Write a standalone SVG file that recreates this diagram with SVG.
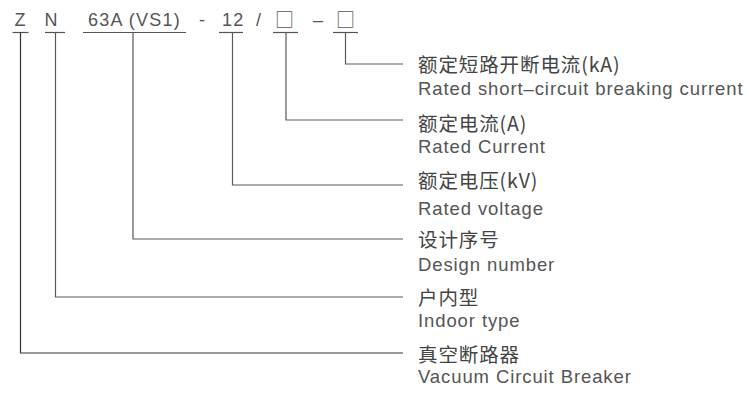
<svg xmlns="http://www.w3.org/2000/svg" width="749" height="397" viewBox="0 0 749 397">
<style>
.code{font-family:"Liberation Sans","Noto Sans CJK SC",sans-serif;font-size:18px;fill:#555;letter-spacing:1.2px}
.sq{font-family:"Noto Sans CJK SC","DejaVu Sans",sans-serif;font-size:19px;fill:#555}
.zh{font-family:"Noto Sans CJK SC","Liberation Sans",sans-serif;font-size:19.5px;fill:#444;letter-spacing:0.9px}
.en{font-family:"Liberation Sans","Noto Sans",sans-serif;font-size:18.5px;fill:#555;letter-spacing:0.9px}
.ul{stroke:#555;stroke-width:1.2;fill:none}
.ln{stroke:#5a5a5a;stroke-width:1.2;fill:none}
</style>
<rect width="749" height="397" fill="#fff"/>
<g id="code">
  <g id="code-z"><text class="code" x="14.5" y="25.5">Z</text><line class="ul" x1="12.5" y1="32.5" x2="28.5" y2="32.5"/></g>
  <g id="code-n"><text class="code" x="44.5" y="25.5">N</text><line class="ul" x1="45" y1="32.5" x2="65" y2="32.5"/></g>
  <g id="code-63a"><text class="code" x="88" y="25.5">63A (VS1)</text><line class="ul" x1="83" y1="32.5" x2="186" y2="32.5"/></g>
  <text class="code" x="199" y="25.5">-</text>
  <g id="code-12"><text class="code" x="222" y="25.5">12</text><line class="ul" x1="219" y1="32.5" x2="243" y2="32.5"/></g>
  <text class="code" x="256" y="25.5">/</text>
  <g id="code-sq1"><text class="sq" x="275" y="26.5">□</text><line class="ul" x1="273" y1="32.5" x2="298" y2="32.5"/></g>
  <text class="code" x="313" y="25.5">–</text>
  <g id="code-sq2"><text class="sq" x="336" y="26.5">□</text><line class="ul" x1="333" y1="32.5" x2="358" y2="32.5"/></g>
</g>
<g id="connectors">
  <polyline class="ln" points="345.5,32.5 345.5,64 403,64"/>
  <polyline class="ln" points="286,32.5 286,120 403,120"/>
  <polyline class="ln" points="232.5,32.5 232.5,185 403,185"/>
  <polyline class="ln" points="133,32.5 133,239 403,239"/>
  <polyline class="ln" points="55.5,32.5 55.5,297 403,297"/>
  <polyline class="ln" points="20.5,32.5 20.5,353 403,353" style="stroke:#333"/>
</g>
<g id="label-breaking">
  <text class="zh" x="418" y="72">额定短路开断电流(kA)</text>
  <text class="en" x="418" y="94.5">Rated short–circuit breaking current</text>
</g>
<g id="label-current">
  <text class="zh" x="418" y="130.5">额定电流(A)</text>
  <text class="en" x="418" y="152.7">Rated Current</text>
</g>
<g id="label-voltage">
  <text class="zh" x="418" y="188">额定电压(kV)</text>
  <text class="en" x="418" y="215">Rated voltage</text>
</g>
<g id="label-design">
  <text class="zh" x="418" y="247">设计序号</text>
  <text class="en" x="418" y="271">Design number</text>
</g>
<g id="label-indoor">
  <text class="zh" x="418" y="304.5">户内型</text>
  <text class="en" x="418" y="326.7">Indoor type</text>
</g>
<g id="label-vcb">
  <text class="zh" x="418" y="362">真空断路器</text>
  <text class="en" x="418" y="382.7">Vacuum Circuit Breaker</text>
</g>
</svg>
